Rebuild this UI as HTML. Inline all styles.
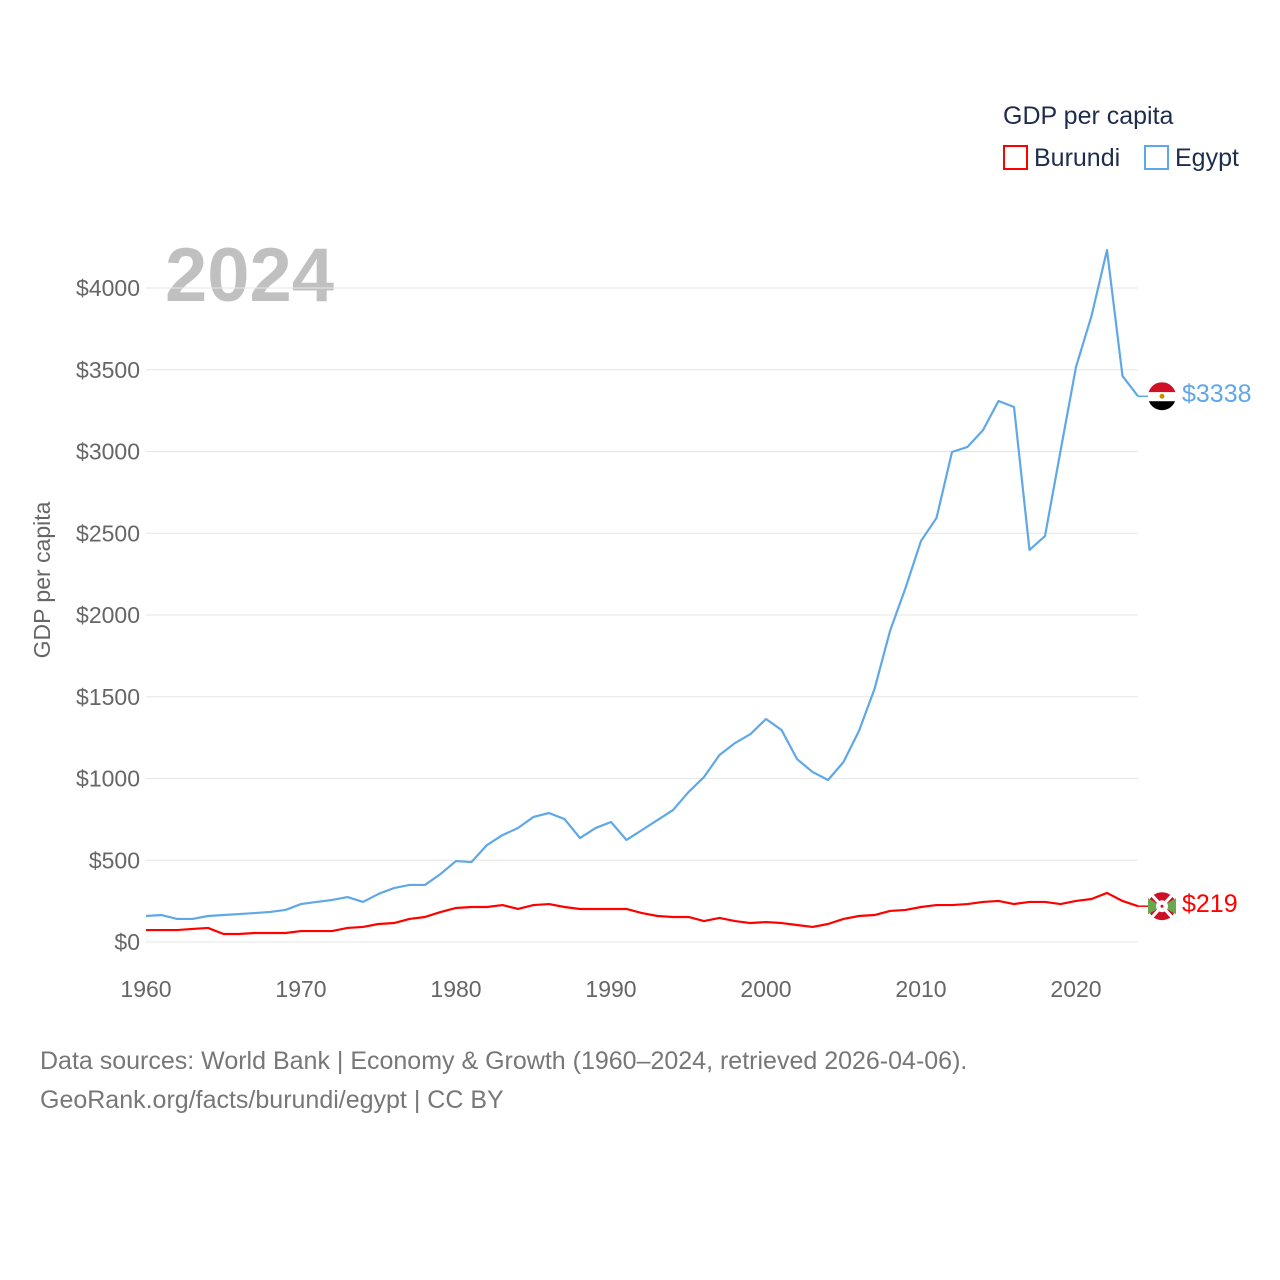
<!DOCTYPE html>
<html><head><meta charset="utf-8"><style>
body{margin:0;background:#fff;font-family:"Liberation Sans",sans-serif;}
svg{display:block}
</style></head><body>
<svg id="chart" width="1280" height="1280">
<text x="1003" y="124" font-size="25" fill="#1f2d4d">GDP per capita</text>
<rect x="1004" y="146" width="23" height="23" fill="none" stroke="#ff0000" stroke-width="2"/>
<text x="1034" y="166" font-size="25" fill="#1f2d4d">Burundi</text>
<rect x="1145" y="146" width="23" height="23" fill="none" stroke="#5fa8e8" stroke-width="2"/>
<text x="1175" y="166" font-size="25" fill="#1f2d4d">Egypt</text>
<text x="165" y="301" font-size="76" font-weight="bold" fill="#c0c0c0">2024</text>
<text transform="translate(50,580) rotate(-90)" text-anchor="middle" font-size="23" fill="#666">GDP per capita</text>
<g id="grid"></g><g id="lines"></g>
<text x="40" y="1069" font-size="25" fill="#777">Data sources: World Bank | Economy &amp; Growth (1960–2024, retrieved 2026-04-06).</text>
<text x="40" y="1108" font-size="25" fill="#777">GeoRank.org/facts/burundi/egypt | CC BY</text>
</svg>
<script>
const years=[];for(let y=1960;y<=2024;y++)years.push(y);
const egypt=[159,165,141,141,159,165,171,177,184,196,232,245,257,275,245,294,330,349,349,416,495,489,593,654,697,765,789,752,636,697,734,624,685,746,807,917,1009,1144,1217,1272,1364,1297,1119,1040,991,1101,1291,1547,1902,2165,2453,2593,2997,3028,3131,3309,3272,2398,2483,3003,3517,3829,4232,3462,3338];
const burundi=[73,73,73,80,86,49,49,55,55,55,67,67,67,86,92,110,116,141,153,183,208,214,214,226,202,226,232,214,202,202,202,202,177,159,153,153,128,147,128,116,122,116,104,92,110,141,159,165,190,196,214,226,226,232,245,251,232,245,245,232,251,263,300,251,219];
const yTicks=[0,500,1000,1500,2000,2500,3000,3500,4000];
const xTicks=[1960,1970,1980,1990,2000,2010,2020];
const X=y=>146+(y-1960)*15.5, Y=v=>942-v*0.1635;
const NS="http://www.w3.org/2000/svg";
const grid=document.getElementById('grid'),lines=document.getElementById('lines');
function mk(tag,attrs,parent){const e=document.createElementNS(NS,tag);for(const k in attrs)e.setAttribute(k,attrs[k]);parent.appendChild(e);return e;}
yTicks.forEach(v=>{
 const l=mk('line',{x1:146,x2:1138,y1:Y(v),y2:Y(v),stroke:'#e6e6e6','stroke-width':1},grid);
 
 
 const t=mk('text',{x:140,y:Y(v)+8,'text-anchor':'end','font-size':23,fill:'#666'},grid);
 t.textContent='$'+v;
 
 
});
xTicks.forEach(v=>{
 const t=mk('text',{x:X(v),y:997,'text-anchor':'middle','font-size':23,fill:'#666'},grid);
 t.textContent=v;
 
 
});
function series(data,color,name){
 const d=data.map((v,i)=>(i?'L':'M')+X(years[i])+','+Y(v)).join(' ');
 const p=mk('path',{d:d,fill:'none',stroke:color,'stroke-width':2.2,'stroke-linejoin':'round'},lines);
 
 
 const last=data[data.length-1],ly=Y(last);
 mk('line',{x1:1138,x2:1150,y1:ly,y2:ly,stroke:color,'stroke-width':1.5},lines);
 const t=mk('text',{x:1182,y:ly+6,'font-size':25,fill:color},lines);
 t.textContent='$'+last;
 
 
 return ly;
}
const ey=series(egypt,'#5fa8e8','egypt');
const by=series(burundi,'#ff0000','burundi');
const fe=mk('g',{},lines);


const cp=mk('clipPath',{id:'ce'},fe);
mk('circle',{cx:1162,cy:ey,r:14},cp);
mk('rect',{x:1148,y:ey-14,width:28,height:10,fill:'#ce1126','clip-path':'url(#ce)'},fe);
mk('rect',{x:1148,y:ey-4,width:28,height:9,fill:'#fff','clip-path':'url(#ce)'},fe);
mk('rect',{x:1148,y:ey+5,width:28,height:10,fill:'#000','clip-path':'url(#ce)'},fe);
mk('circle',{cx:1162,cy:ey,r:2.5,fill:'#c09300'},fe);
const fb=mk('g',{},lines);


mk('circle',{cx:1162,cy:by,r:14,fill:'#ce1126'},fb);
mk('path',{d:`M1148,${by-8} L1162,${by} L1148,${by+8} Z M1176,${by-8} L1162,${by} L1176,${by+8} Z`,fill:'#6aa84f'},fb);
mk('path',{d:`M1152,${by-11} L1172,${by+11} M1172,${by-11} L1152,${by+11}`,stroke:'#fff','stroke-width':3},fb);
mk('circle',{cx:1162,cy:by,r:6,fill:'#fff'},fb);
mk('circle',{cx:1162,cy:by,r:1.5,fill:'#ce1126'},fb);
</script>
</body></html>
